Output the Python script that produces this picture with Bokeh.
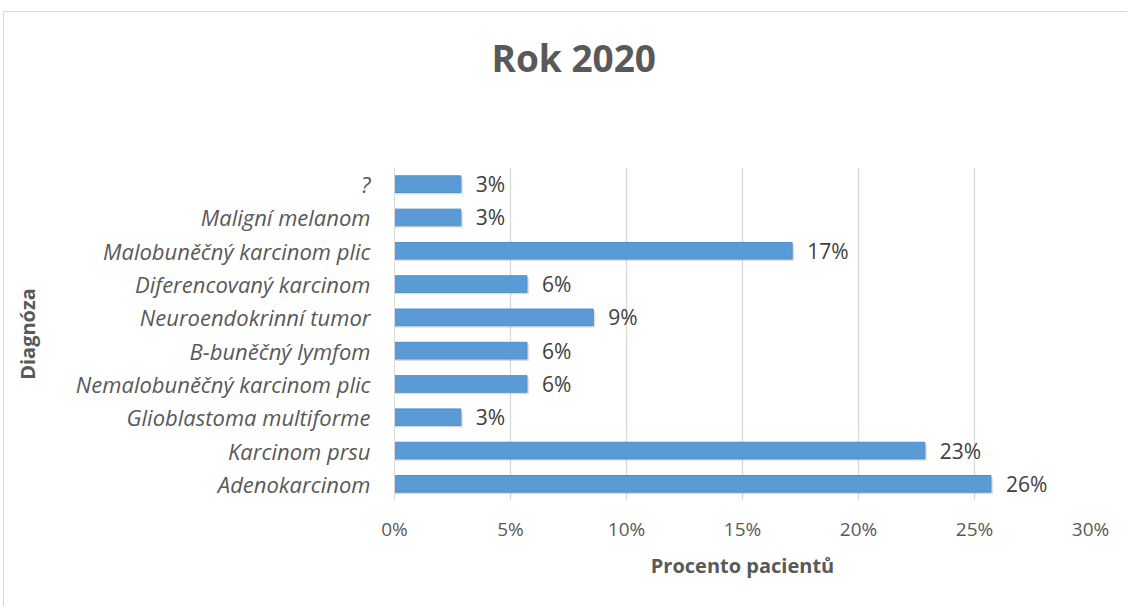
from bokeh.plotting import figure
from bokeh.models import ColumnDataSource, Title, FactorRange, FixedTicker, Range1d
from bokeh.transform import dodge
from bokeh.core.properties import value
from bokeh.embed import file_html
from bokeh.resources import INLINE

# Categories listed bottom -> top
categories = ["Adenokarcinom", "Karcinom prsu", "Glioblastoma multiforme",
              "Nemalobuněčný karcinom plic", "B-buněčný lymfom",
              "Neuroendokrinní tumor", "Diferencovaný karcinom",
              "Malobuněčný karcinom plic", "Maligní melanom", "?"]
percent = [25.71, 22.86, 2.86, 5.71, 5.71, 8.57, 5.71, 17.14, 2.86, 2.86]
value_labels = ["26%", "23%", "3%", "6%", "6%", "9%", "6%", "17%", "3%", "3%"]
x_ticks = [0, 5, 10, 15, 20, 25, 30]
x_tick_labels = ["0%", "5%", "10%", "15%", "20%", "25%", "30%"]
title_text = "Rok 2020"

FONT = "Open Sans"
GRAY = "#595959"

source = ColumnDataSource(dict(cat=categories, percent=percent, label=value_labels))

p = figure(width=1124, height=595, output_backend="svg", toolbar_location=None,
           y_range=FactorRange(factors=categories), x_range=Range1d(0, 30),
           min_border_left=390, min_border_right=38, min_border_top=155,
           min_border_bottom=107, background_fill_color="white",
           border_fill_color="white", outline_line_color=None)
p.styles = {"border-top": "1px solid #d9d9d9", "border-left": "1px solid #d9d9d9",
            "margin-left": "3px", "margin-top": "11px"}

# chart title (outermost) + spacer between title and plot area
p.title.text = title_text
p.title.align = "left"
p.title.offset = 97
p.title.standoff = 0
p.title.vertical_align = "top"
p.title.text_font = FONT
p.title.text_font_size = "37px"
p.title.text_font_style = "bold"
p.title.text_color = GRAY
spacer = Title(text=" ", standoff=80, text_font_size="1px", text_color="white")
p.add_layout(spacer, "above")

# soft shadow
p.hbar(y=dodge("cat", -0.06, range=p.y_range), left=0, right=dodge("percent", 0.09),
       height=0.5, source=source, fill_color="#7f7f7f", fill_alpha=0.25, line_color=None)
p.hbar(y="cat", left=0, right="percent", height=0.5, source=source,
       fill_color="#5b9bd5", line_color="#4f8fcf", line_width=1)

p.text(x="percent", y="cat", text="label", source=source, x_offset=15,
       text_baseline="middle", text_align="left", text_font=value(FONT),
       text_font_size="21px", text_color="#404040")

# x axis
xa = p.xaxis[0]
xa.ticker = FixedTicker(ticks=x_ticks)
xa.major_label_overrides = {t: l for t, l in zip(x_ticks, x_tick_labels)}
xa.axis_line_color = None
xa.major_tick_line_color = None
xa.minor_tick_line_color = None
xa.major_label_text_font = FONT
xa.major_label_text_font_size = "19px"
xa.major_label_text_color = GRAY
xa.major_label_standoff = 9
xa.axis_label = "Procento pacientů"
xa.axis_label_text_font = FONT
xa.axis_label_text_font_size = "20px"
xa.axis_label_text_font_style = "bold"
xa.axis_label_text_color = GRAY
xa.axis_label_standoff = 7

# y axis
ya = p.yaxis[0]
ya.axis_line_color = "#d9d9d9"
ya.major_tick_line_color = None
ya.minor_tick_line_color = None
ya.major_label_text_font = FONT
ya.major_label_text_font_size = "22px"
ya.major_label_text_font_style = "italic"
ya.major_label_text_color = GRAY
ya.major_label_standoff = 18
ya.axis_label = "Diagnóza"
ya.axis_label_text_font = FONT
ya.axis_label_text_font_size = "20px"
ya.axis_label_text_font_style = "bold"
ya.axis_label_text_color = GRAY
ya.axis_label_standoff = 32

p.xgrid.grid_line_color = "#d9d9d9"
p.xgrid.grid_line_width = 1.3
p.ygrid.grid_line_color = None

open("out.html", "w").write(file_html(p, INLINE))
